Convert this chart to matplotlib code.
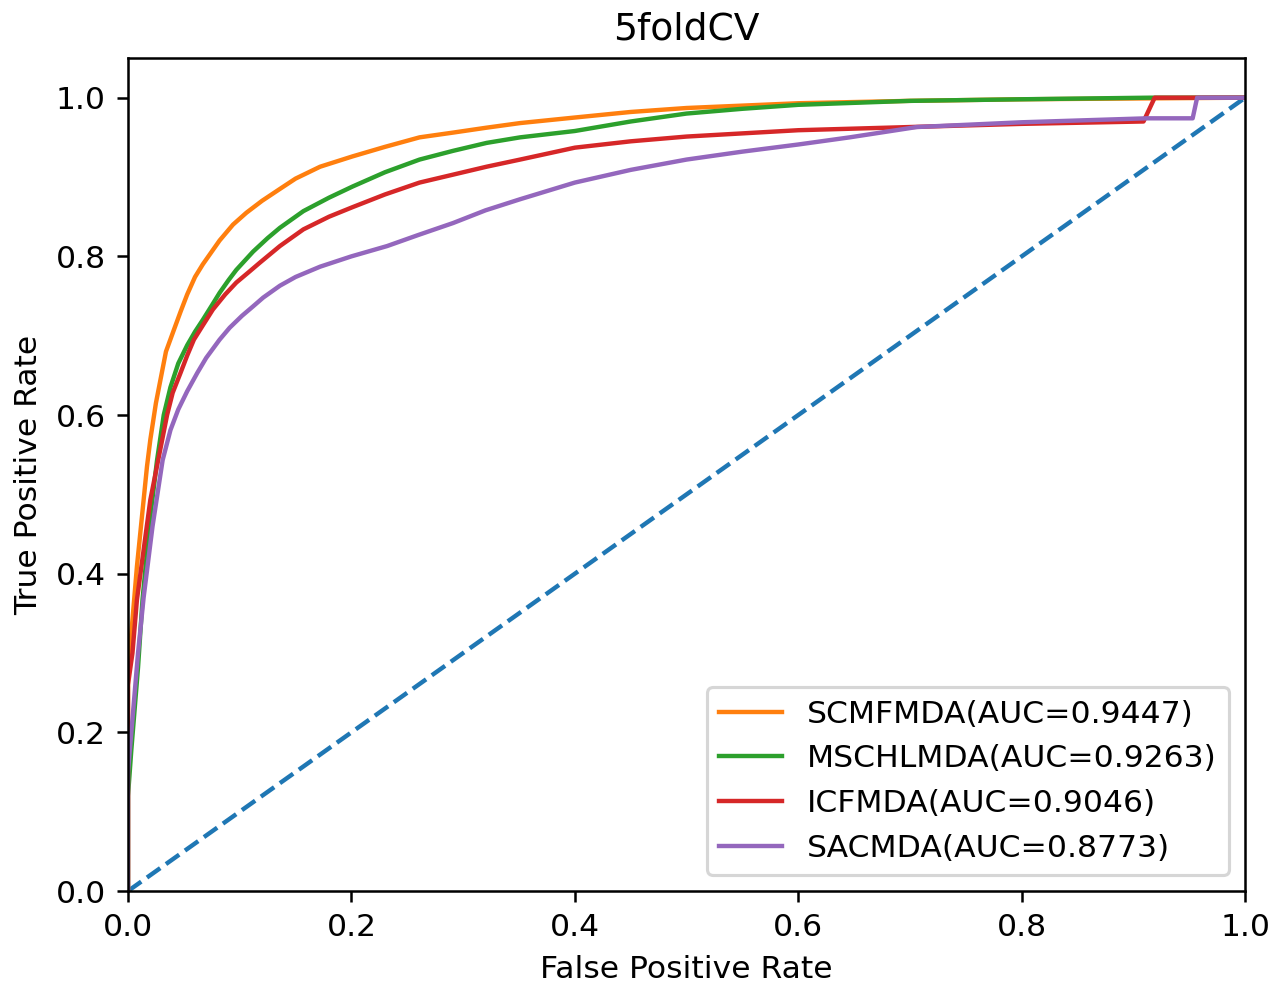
import numpy as np
import matplotlib.pyplot as plt

# ROC points
fpr_scmf = [0, 0, 0.003, 0.008, 0.011, 0.017, 0.020, 0.025, 0.029, 0.034, 0.041, 0.047, 0.053,
            0.060, 0.067, 0.075, 0.082, 0.094, 0.106, 0.120, 0.136, 0.150, 0.172, 0.201, 0.230,
            0.261, 0.291, 0.320, 0.351, 0.40, 0.45, 0.50, 0.55, 0.60, 0.70, 0.80, 0.90, 1.0]
tpr_scmf = [0, 0.28, 0.325, 0.409, 0.451, 0.535, 0.569, 0.615, 0.644, 0.680, 0.707, 0.730, 0.752,
            0.774, 0.790, 0.806, 0.820, 0.840, 0.855, 0.870, 0.885, 0.898, 0.913, 0.926, 0.938,
            0.950, 0.956, 0.962, 0.968, 0.975, 0.982, 0.987, 0.990, 0.993, 0.996, 0.998, 0.999, 1.0]

fpr_msch = [0, 0, 0.003, 0.009, 0.013, 0.020, 0.026, 0.032, 0.038, 0.045, 0.053, 0.060, 0.067,
            0.075, 0.082, 0.090, 0.097, 0.112, 0.125, 0.136, 0.157, 0.180, 0.201, 0.230, 0.261,
            0.291, 0.321, 0.351, 0.40, 0.45, 0.50, 0.55, 0.60, 0.70, 0.80, 0.915, 1.0]
tpr_msch = [0, 0.12, 0.178, 0.282, 0.367, 0.472, 0.543, 0.600, 0.635, 0.665, 0.688, 0.705, 0.720,
            0.738, 0.754, 0.770, 0.783, 0.806, 0.823, 0.836, 0.857, 0.874, 0.888, 0.906, 0.922,
            0.933, 0.943, 0.950, 0.958, 0.970, 0.980, 0.986, 0.991, 0.996, 0.998, 1.0, 1.0]

fpr_icf = [0, 0, 0.004, 0.008, 0.014, 0.020, 0.027, 0.035, 0.040, 0.047, 0.053, 0.059, 0.067,
           0.076, 0.087, 0.097, 0.108, 0.118, 0.136, 0.157, 0.180, 0.201, 0.230, 0.261, 0.291,
           0.321, 0.351, 0.40, 0.45, 0.50, 0.60, 0.70, 0.80, 0.909, 0.919, 1.0]
tpr_icf = [0, 0.26, 0.30, 0.367, 0.43, 0.493, 0.543, 0.600, 0.628, 0.653, 0.675, 0.695, 0.713,
           0.733, 0.752, 0.767, 0.780, 0.792, 0.813, 0.834, 0.850, 0.862, 0.878, 0.893, 0.903,
           0.913, 0.922, 0.937, 0.945, 0.951, 0.959, 0.963, 0.967, 0.970, 1.0, 1.0]

fpr_sac = [0, 0, 0.003, 0.009, 0.014, 0.022, 0.031, 0.038, 0.045, 0.053, 0.062, 0.070, 0.082,
           0.091, 0.102, 0.112, 0.121, 0.136, 0.150, 0.172, 0.200, 0.232, 0.260, 0.291, 0.320,
           0.351, 0.40, 0.45, 0.50, 0.55, 0.60, 0.646, 0.706, 0.80, 0.912, 0.953, 0.957, 1.0]
tpr_sac = [0, 0.15, 0.20, 0.30, 0.37, 0.46, 0.543, 0.581, 0.607, 0.630, 0.653, 0.672, 0.695,
           0.710, 0.725, 0.737, 0.748, 0.763, 0.774, 0.787, 0.800, 0.813, 0.827, 0.842, 0.858,
           0.872, 0.893, 0.909, 0.922, 0.932, 0.941, 0.950, 0.963, 0.969, 0.974, 0.974, 1.0, 1.0]

labels = ['SCMFMDA(AUC=0.9447)', 'MSCHLMDA(AUC=0.9263)', 'ICFMDA(AUC=0.9046)', 'SACMDA(AUC=0.8773)']

fig = plt.figure(figsize=(1285 / 226, 985 / 226), dpi=226)
ax = fig.add_axes([0.0996, 0.0954, 0.8694, 0.8457])

lw = 1.4
# diagonal first so it takes C0
ax.plot([0, 1], [0, 1], linestyle='--', lw=lw)
ax.plot(fpr_scmf, tpr_scmf, lw=lw, label=labels[0])
ax.plot(fpr_msch, tpr_msch, lw=lw, label=labels[1])
ax.plot(fpr_icf, tpr_icf, lw=lw, label=labels[2])
ax.plot(fpr_sac, tpr_sac, lw=lw, label=labels[3])

ax.set_xlim(0, 1)
ax.set_ylim(0, 1.05)
ax.set_xlabel('False Positive Rate')
ax.set_ylabel('True Positive Rate')
ax.set_title('5foldCV')
ax.legend(loc='lower right')

plt.savefig('out.png')
